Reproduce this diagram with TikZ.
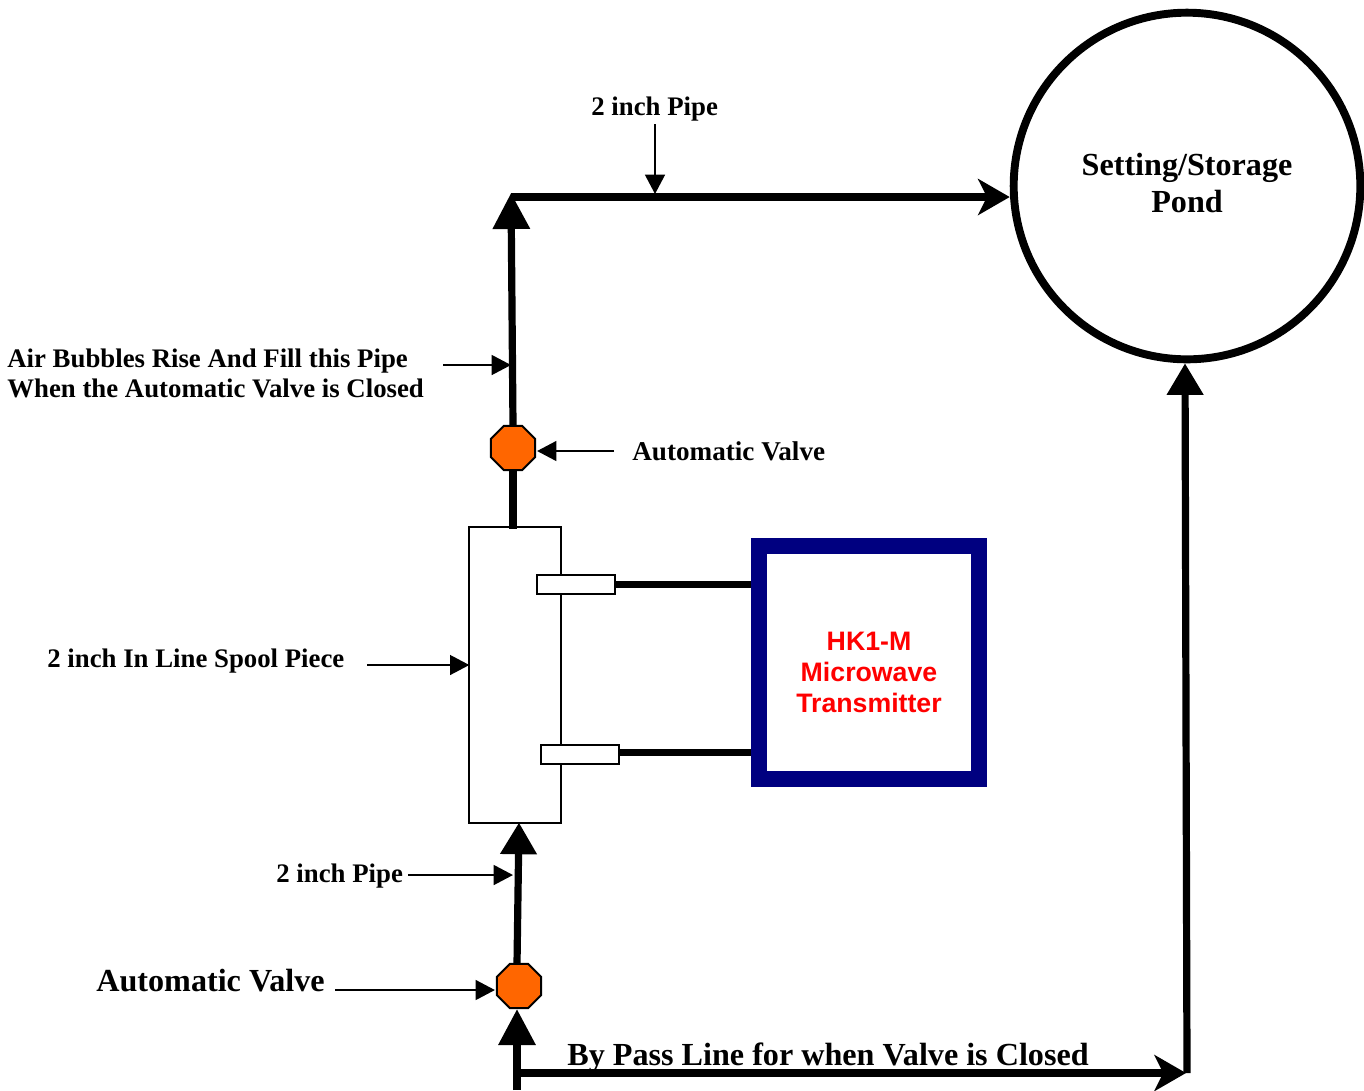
\documentclass[tikz,border=0pt]{standalone}
\usepackage{fontspec}
\setmainfont{Liberation Serif}
\newfontfamily\armfont{Liberation Sans}
\usetikzlibrary{arrows.meta,shapes,calc}
\definecolor{clrValve}{rgb}{1,0.4,0}
\definecolor{clrTransmitter}{rgb}{0,0,0.5}
\tikzstyle{pipe}=[line width=4.1pt]
\tikzstyle{bigarrow}=[pipe, -{Triangle[length=20.5pt,width=20.4pt]}]
\tikzstyle{midarrow}=[pipe, -{Triangle[length=18pt,width=20pt]}]
\tikzstyle{flowarrow}=[pipe, -{Stealth[length=18pt,width=20.5pt,inset=5pt]}]
\tikzstyle{pointer}=[line width=1.1pt, -{Triangle[length=11pt,width=11.3pt]}]
\tikzstyle{valve}=[draw, fill=clrValve, line width=1.1pt, regular polygon, regular polygon sides=8, minimum size=27.2pt, inner sep=0pt, outer sep=0pt]
\tikzstyle{sensor}=[draw, fill=white, line width=1.1pt, minimum width=44pt, minimum height=10.8pt, inner sep=0pt, outer sep=0pt]
\tikzstyle{label}=[font=\bfseries\fontsize{15.25}{17}\selectfont, align=left, inner sep=0pt, anchor=west]
\tikzstyle{biglabel}=[label, font=\bfseries\fontsize{18.3}{21}\selectfont]
\begin{document}
\begin{tikzpicture}[x=0.02cm,y=-0.02cm]
	\useasboundingbox (0,0) rectangle (1364,1090);

	% pond and spool piece
	\node[draw, circle, line width=4.5pt, minimum size=197.3pt, inner sep=0pt, outer sep=2.25pt] (pond) at (1187,186) {};
	\node[biglabel, anchor=center, align=center, font=\bfseries\fontsize{18.3}{21.6}\selectfont] (pondTxt) at (1187,183) {Setting/Storage\\Pond};
	\node[draw, line width=1.1pt, minimum width=52pt, minimum height=168pt, inner sep=0pt, outer sep=0pt] (spool) at (515,675) {};
	\node[draw=clrTransmitter, line width=9pt, minimum width=125pt, minimum height=132.4pt, inner sep=0pt, outer sep=4.5pt] (hk) at (869,662.5) {};
	\node[align=center, text=red, inner sep=0pt, font=\armfont\bfseries\fontsize{15.2}{17.6}\selectfont] (hkTxt) at (869,672) {HK1-M\\Microwave\\Transmitter};

	% valves
	\node[valve] (V1) at (513,448) {};
	\node[valve] (V2) at (519,986) {};

	% sensors
	\node[sensor] (S1) at (576,584.5) {};
	\node[sensor] (S2) at (580,754.5) {};
	\draw[pipe] (S1.east) -- (S1.east -| hk.west);
	\draw[pipe] ($(S2.east)+(0,-2)$) -- ($(S2.east -| hk.west)+(0,-2)$);

	% main pipe
	\coordinate (corner) at (511,197);
	\coordinate (top) at (511,193);
	\coordinate (start) at (517,1090);
	\coordinate (tee) at (517,1073);
	\coordinate (turn) at (1187,1073);
	\draw[pipe] (V1.south) -- (513,529);
	\draw[bigarrow] (V1.north) -- (top);
	\draw[flowarrow] (corner) -- (corner -| pond.west);
	\draw[midarrow] ($(V2.north)+(-2,0)$) -- (spool.south -| V2.north);
	\draw[bigarrow] (start) -- ($(V2.south -| start)+(0,1)$);
	\draw[flowarrow] ($(tee)+(-2,0)$) -- (1186,1073);
	\draw[midarrow] (turn) -- (pond.south -| 1185,0);

	% labels
	\node[label] (pipeTop) at (591,109.5) {2 inch Pipe};
	\node[label] (air) at (7,373) {Air Bubbles Rise And Fill this Pipe\\When the Automatic Valve is Closed};
	\node[label, font=\bfseries\fontsize{15.45}{17}\selectfont] (autoTop) at (632,451) {Automatic Valve};
	\node[label] (spoolTxt) at (47,661.5) {2 inch In Line Spool Piece};
	\node[label] (pipeLow) at (276,876.5) {2 inch Pipe};
	\node[biglabel] (autoLow) at (96,981) {Automatic Valve};
	\node[biglabel] (bypass) at (567,1058) {By Pass Line for when Valve is Closed};

	% pointers
	\coordinate (a1) at (655,124);
	\coordinate (a2) at (443,365);
	\coordinate (a3) at (614,451);
	\coordinate (a4) at (367,665);
	\coordinate (a5) at (408,875);
	\coordinate (a6) at (335,990);
	\draw[pointer] (a1) -- ($(a1 |- corner)+(0,-3)$);
	\draw[pointer] (a2) -- (511,365);
	\draw[pointer] (a3) -- ($(V1.east |- a3)+(2,0)$);
	\draw[pointer] (a4) -- (a4 -| spool.west);
	\draw[pointer] (a5) -- (513,875);
	\draw[pointer] (a6) -- ($(V2.west |- a6)+(-2,0)$);
\end{tikzpicture}
\end{document}
